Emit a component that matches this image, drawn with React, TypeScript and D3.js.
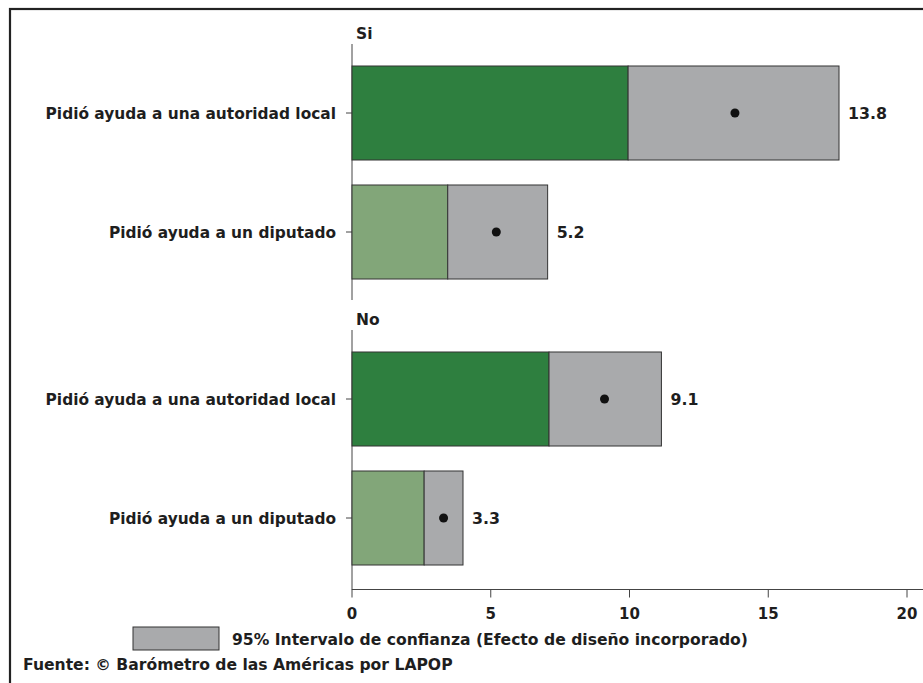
import React from "react";
import * as d3 from "d3";

const categories = ["Pidió ayuda a una autoridad local", "Pidió ayuda a un diputado"];
const groups = ["Si", "No"];
const meanSi = [13.8, 5.2];
const meanNo = [9.1, 3.3];
const lowSi = [9.95, 3.45];
const lowNo = [7.1, 2.6];
const highSi = [17.55, 7.05];
const highNo = [11.15, 4.0];
const xTicks = [0, 5, 10, 15, 20];
const legendLabel = "95% Intervalo de confianza (Efecto de diseño incorporado)";
const sourceLabel = "Fuente: © Barómetro de las Américas por LAPOP";

const W = 923;
const H = 683;
const WIDE = "'DejaVu Sans', Verdana, sans-serif";
const barColors = ["#2e7f3f", "#82a679"];
const ciColor = "#a9aaac";
const edge = "#333333";
const ink = "#1e1e1e";

export default function App() {
  const x = d3.scaleLinear().domain([0, 20]).range([352, 907]);
  const panels = [
    { name: groups[0], mean: meanSi, low: lowSi, high: highSi, top: 44, bottom: 300, range: [53.5, 291.5] },
    { name: groups[1], mean: meanNo, low: lowNo, high: highNo, top: 330, bottom: 590, range: [339.5, 577.5] },
  ];
  const axisY = 589.5;

  return (
    <svg width={W} height={H} style={{ position: "absolute", left: 0, top: 0, background: "#fff" }}>
      <rect x={10} y={9} width={W + 20} height={H + 20} fill="#fff" stroke="#222" strokeWidth={2.2} />
      {panels.map((p) => {
        const y = d3.scaleBand<string>().domain(categories).range(p.range as [number, number]).paddingInner(0.21).paddingOuter(0.105);
        return (
          <g key={p.name}>
            <text x={356} y={p.top - 5} fontFamily={WIDE} fontWeight="bold" fontSize={15.5} fill={ink}>{p.name}</text>
            <line x1={x(0)} x2={x(0)} y1={p.top} y2={p.bottom} stroke="#444" strokeWidth={1} />
            {categories.map((c, i) => {
              const y0 = y(c)!;
              const bh = y.bandwidth();
              const cy = y0 + bh / 2;
              return (
                <g key={c}>
                  <line x1={x(0) - 6} x2={x(0)} y1={cy} y2={cy} stroke="#444" />
                  <text x={336} y={cy} dy="0.36em" textAnchor="end" fontFamily={WIDE} fontWeight="bold" fontSize={15.4} fill={ink}>{c}</text>
                  <rect x={x(0)} y={y0} width={x(p.low[i]) - x(0)} height={bh} fill={barColors[i]} stroke={edge} strokeWidth={1} />
                  <rect x={x(p.low[i])} y={y0} width={x(p.high[i]) - x(p.low[i])} height={bh} fill={ciColor} stroke={edge} strokeWidth={1} />
                  <circle cx={x(p.mean[i])} cy={cy} r={4.5} fill="#111" />
                  <text x={x(p.high[i]) + 9} y={cy} dy="0.36em" fontFamily={WIDE} fontWeight="bold" fontSize={15.8} fill={ink}>{p.mean[i].toFixed(1)}</text>
                </g>
              );
            })}
          </g>
        );
      })}
      <line x1={x(0)} x2={W + 5} y1={axisY} y2={axisY} stroke="#444" strokeWidth={1} />
      {xTicks.map((t) => (
        <g key={t}>
          <line x1={x(t)} x2={x(t)} y1={axisY} y2={axisY + 8} stroke="#444" />
          <text x={x(t)} y={614} dy="0.36em" textAnchor="middle" fontFamily={WIDE} fontWeight="bold" fontSize={15} fill={ink}>{t}</text>
        </g>
      ))}
      <rect x={133} y={627} width={86} height={23} fill={ciColor} stroke={edge} strokeWidth={1} />
      <text x={232} y={639} dy="0.36em" fontFamily={WIDE} fontWeight="bold" fontSize={15.6} fill={ink}>{legendLabel}</text>
      <text x={23} y={664} dy="0.36em" fontFamily={WIDE} fontWeight="bold" fontSize={15.6} fill={ink}>{sourceLabel}</text>
    </svg>
  );
}
